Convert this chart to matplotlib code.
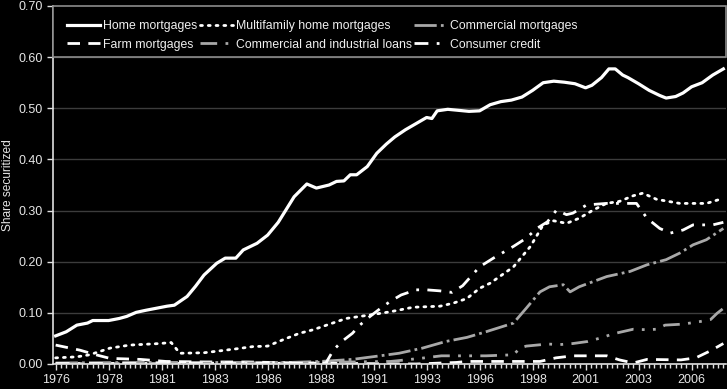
import matplotlib.pyplot as plt
from matplotlib.patches import Rectangle
import numpy as np

# Quarterly share securitized (decimal years)
home_x = [1976.0, 1976.5, 1977.0, 1977.5, 1977.75, 1978.5, 1979.0, 1979.35, 1979.8, 1980.25,
          1980.75, 1981.25, 1981.6, 1982.2, 1982.6, 1983.0, 1983.6, 1984.0, 1984.5, 1984.85,
          1985.5, 1986.0, 1986.5, 1987.25, 1987.85, 1988.3, 1988.9, 1989.25, 1989.6, 1989.9,
          1990.2, 1990.7, 1991.15, 1991.6, 1992.0, 1992.5, 1993.0, 1993.5, 1993.75, 1994.0,
          1994.5, 1995.0, 1995.5, 1996.0, 1996.5, 1997.0, 1997.5, 1998.0, 1998.5, 1999.0,
          1999.5, 2000.0, 2000.5, 2001.0, 2001.3, 2001.75, 2002.1, 2002.4, 2002.75, 2003.0,
          2003.5, 2004.0, 2004.5, 2004.8, 2005.25, 2005.6, 2006.0, 2006.5, 2007.0, 2007.5]
home_y = [0.055, 0.063, 0.076, 0.080, 0.085, 0.085, 0.089, 0.093, 0.101, 0.105,
          0.109, 0.113, 0.115, 0.132, 0.152, 0.174, 0.197, 0.207, 0.207, 0.223,
          0.236, 0.252, 0.277, 0.327, 0.352, 0.344, 0.350, 0.357, 0.358, 0.370,
          0.370, 0.386, 0.412, 0.430, 0.444, 0.458, 0.470, 0.482, 0.480, 0.495,
          0.498, 0.496, 0.494, 0.495, 0.507, 0.513, 0.516, 0.522, 0.535, 0.550,
          0.553, 0.551, 0.548, 0.540, 0.545, 0.560, 0.577, 0.577, 0.565, 0.560,
          0.548, 0.535, 0.525, 0.520, 0.523, 0.530, 0.542, 0.550, 0.565, 0.577]

multi_x = [1976.0, 1977.0, 1977.6, 1978.56, 1979.5, 1980.9, 1981.45, 1981.86, 1983.0, 1984.4,
           1985.3, 1986.0, 1986.7, 1987.5, 1988.15, 1989.7, 1991.0, 1991.77, 1992.87, 1994.13,
           1994.76, 1995.4, 1996.0, 1996.5, 1997.6, 1998.4, 1999.0, 1999.5, 2000.1, 2000.7,
           2001.36, 2001.98, 2002.6, 2003.25, 2003.7, 2004.35, 2005.45, 2006.7, 2007.5]
multi_y = [0.012, 0.014, 0.018, 0.031, 0.037, 0.040, 0.042, 0.021, 0.022, 0.029,
           0.034, 0.035, 0.047, 0.060, 0.067, 0.089, 0.097, 0.102, 0.111, 0.113,
           0.119, 0.128, 0.148, 0.158, 0.190, 0.230, 0.272, 0.280, 0.275, 0.285,
           0.301, 0.314, 0.318, 0.329, 0.334, 0.322, 0.314, 0.314, 0.324]

comm_x = [1976.0, 1980.0, 1984.0, 1987.0, 1988.5, 1990.0, 1991.3, 1992.2, 1993.3, 1994.4,
          1995.4, 1996.3, 1997.6, 1998.2, 1998.85, 1999.3, 1999.95, 2000.27, 2000.7, 2002.0,
          2003.1, 2003.9, 2004.8, 2005.45, 2006.07, 2006.7, 2007.5]
comm_y = [0.002, 0.003, 0.003, 0.003, 0.005, 0.009, 0.016, 0.021, 0.031, 0.044,
          0.052, 0.063, 0.080, 0.109, 0.141, 0.151, 0.155, 0.141, 0.151, 0.171,
          0.181, 0.194, 0.204, 0.217, 0.233, 0.243, 0.265]

farm_x = [1976.0, 1977.15, 1977.9, 1978.56, 1980.0, 1981.2, 1983.0, 1985.0, 1987.4, 1990.0,
          1993.0, 1994.9, 1995.4, 1998.85, 1999.6, 2000.4, 2002.0, 2002.6, 2003.25, 2003.9,
          2005.5, 2006.2, 2006.9, 2007.5]
farm_y = [0.037, 0.027, 0.018, 0.011, 0.009, 0.005, 0.004, 0.004, 0.002, 0.001,
          0.000, 0.003, 0.005, 0.005, 0.012, 0.016, 0.016, 0.008, 0.002, 0.009,
          0.008, 0.012, 0.026, 0.040]

ci_x = [1976.0, 1980.0, 1985.0, 1988.0, 1990.0, 1991.8, 1993.2, 1994.2, 1996.3, 1997.6,
        1997.9, 1998.2, 1999.2, 1999.8, 2000.4, 2001.1, 2001.8, 2002.3, 2003.25, 2003.9,
        2004.35, 2004.75, 2005.6, 2006.4, 2006.9, 2007.2, 2007.6]
ci_y = [0.001, 0.001, 0.002, 0.003, 0.004, 0.005, 0.011, 0.016, 0.016, 0.018,
        0.031, 0.035, 0.039, 0.038, 0.040, 0.044, 0.052, 0.059, 0.068, 0.067,
        0.068, 0.076, 0.078, 0.083, 0.087, 0.099, 0.112]

cons_x = [1976.0, 1980.0, 1985.0, 1988.75, 1989.1, 1989.5, 1990.0, 1990.35, 1990.83, 1991.3,
          1991.77, 1992.3, 1993.0, 1993.5, 1994.13, 1994.7, 1995.2, 1996.0, 1996.65, 1997.6,
          1998.2, 1998.7, 1999.2, 1999.63, 2000.1, 2000.4, 2001.05, 2001.98, 2002.8, 2003.4,
          2003.9, 2004.5, 2005.0, 2005.6, 2006.07, 2007.0, 2007.5]
cons_y = [0.001, 0.001, 0.001, 0.002, 0.027, 0.044, 0.060, 0.076, 0.093, 0.108,
          0.122, 0.135, 0.145, 0.145, 0.143, 0.140, 0.153, 0.190, 0.207, 0.230,
          0.246, 0.265, 0.278, 0.301, 0.292, 0.295, 0.311, 0.314, 0.314, 0.314,
          0.285, 0.265, 0.256, 0.262, 0.272, 0.272, 0.277]

tick_years = np.arange(1976, 2007, 2.5)
tick_labels = [str(int(y)) for y in tick_years]

fig = plt.figure(figsize=(7.27, 3.89), dpi=100, facecolor='black')
ax = fig.add_axes([53/727, 1 - 364/389, 673/727, 358/389])
ax.set_facecolor('black')

gray = '#a8a8a8'
l_home, = ax.plot(home_x, home_y, color='white', lw=2.3, label='Home mortgages')
l_multi, = ax.plot(multi_x, multi_y, color='white', lw=2.0, linestyle=(0, (0.7, 2.1)),
                   dash_capstyle='round', label='Multifamily home mortgages')
l_comm, = ax.plot(comm_x, comm_y, color=gray, lw=2.0, linestyle=(0, (8, 1.5, 1, 1.5)),
                  label='Commercial mortgages')
l_farm, = ax.plot(farm_x, farm_y, color='white', lw=2.0, linestyle=(0, (4.5, 3)),
                  label='Farm mortgages')
l_ci, = ax.plot(ci_x, ci_y, color=gray, lw=2.0, linestyle=(0, (6, 3, 1, 3, 1, 3)),
                label='Commercial and industrial loans')
l_cons, = ax.plot(cons_x, cons_y, color='white', lw=2.0, linestyle=(0, (5, 3, 1, 3)),
                  label='Consumer credit')

# axes and grid
ax.set_xlim(1975.875, 2007.625)
ax.set_ylim(0, 0.70)
ax.set_yticks(np.arange(0, 0.71, 0.1))
ax.yaxis.set_major_formatter(plt.FormatStrFormatter('%.2f'))
ax.set_xticks(tick_years)
ax.set_xticklabels(tick_labels)
ax.set_xticks(np.arange(1976, 2007.6, 0.25), minor=True)
ax.grid(axis='y', color='#3c3c3c', lw=1)
ax.set_axisbelow(True)
for side in ['top', 'right']:
    ax.spines[side].set_visible(False)
for side in ['left', 'bottom']:
    ax.spines[side].set_color('#e0e0e0')
    ax.spines[side].set_linewidth(1.2)
ax.tick_params(axis='both', colors='#e0e0e0', labelsize=9, length=4, width=1, labelcolor='#e6e6e6')
ax.tick_params(axis='x', which='minor', colors='#e0e0e0', length=3, width=1)
ax.tick_params(axis='x', pad=3)
ax.set_ylabel('Share securitized', color='#e6e6e6', fontsize=8.6, labelpad=3)

for t in ax.get_xticklabels() + ax.get_yticklabels():
    t.set_fontfamily('Liberation Sans')
ax.yaxis.label.set_fontfamily('Liberation Sans')

# legend box spanning the width at the top
ax.add_patch(Rectangle((0, 0.8575), 1, 0.1425, transform=ax.transAxes, facecolor='black',
                       edgecolor='#8c8c8c', lw=1.2, zorder=5, clip_on=False))
# legend filled column by column -> rows read Home/Multi/Comm, Farm/C&I/Consumer
handles = [l_home, l_farm, l_multi, l_ci, l_comm, l_cons]
leg = ax.legend(handles=handles, loc='upper left', bbox_to_anchor=(0.0, 1.0), ncol=3,
                frameon=False, prop={'family': 'Liberation Sans', 'size': 8.8},
                handlelength=2.7, handletextpad=0.25, columnspacing=0.2, labelspacing=0.55,
                borderpad=0.75, borderaxespad=0.4)
leg.set_zorder(6)
for t in leg.get_texts():
    t.set_color('#f0f0f0')

plt.savefig('out.png', dpi=100, facecolor='black')
